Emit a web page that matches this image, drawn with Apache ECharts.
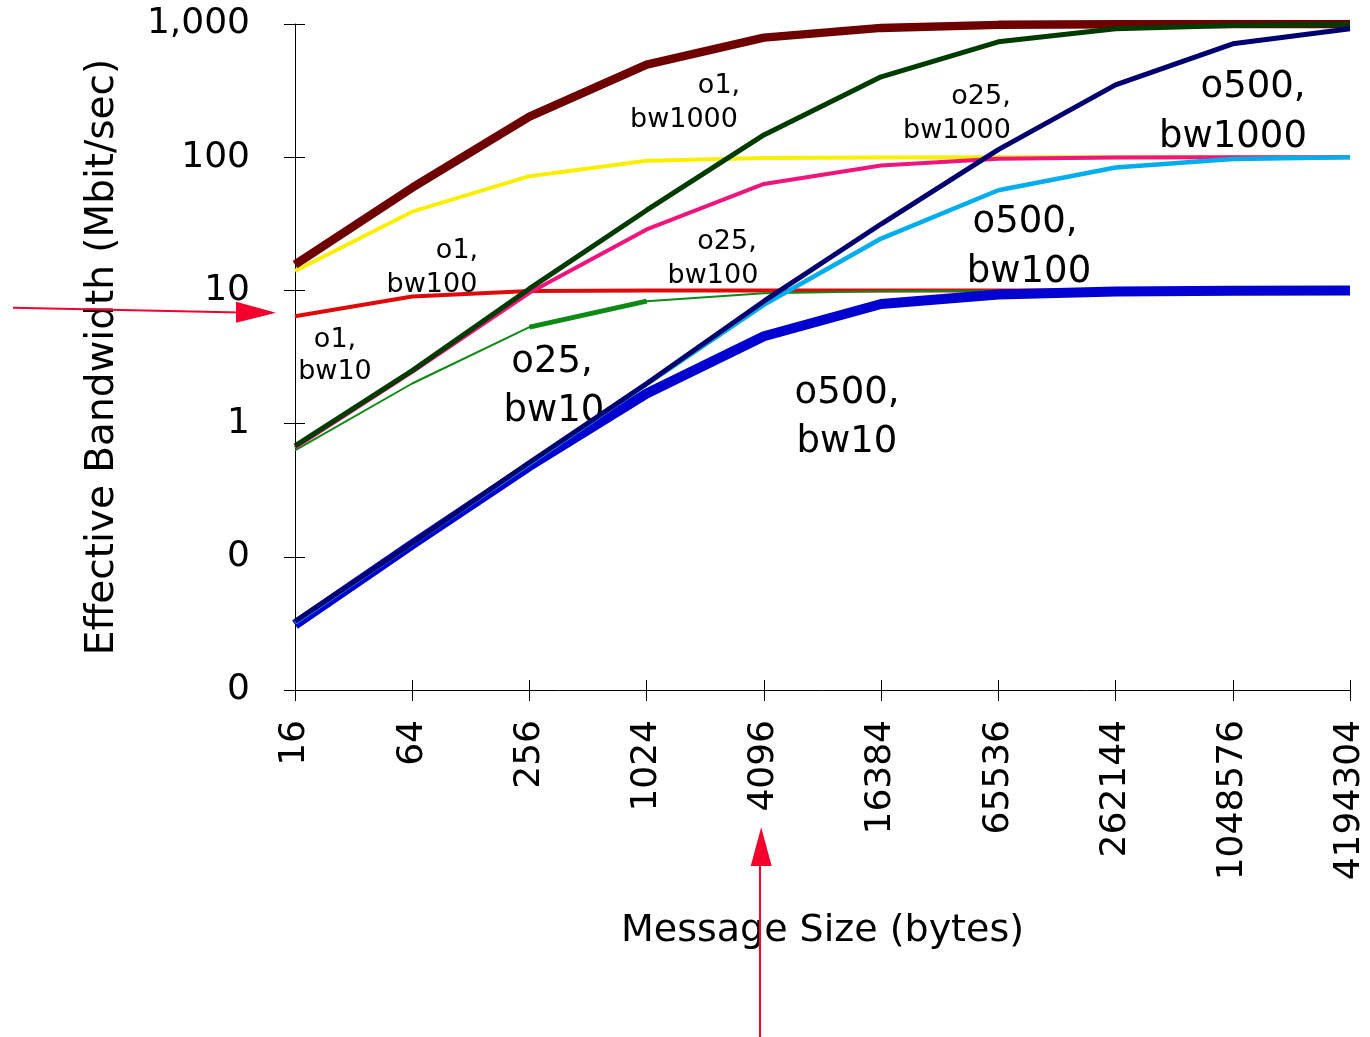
<!DOCTYPE html>
<html><head><meta charset="utf-8">
<script src="https://cdn.jsdelivr.net/npm/echarts/dist/echarts.min.js"></script>
<style>html,body{margin:0;padding:0;background:#fff}#c{width:1370px;height:1037px}</style>
</head><body><div id="c"></div>
<script>
// ---- data ----
const sizes = ['16','64','256','1024','4096','16384','65536','262144','1048576','4194304'];
const yTickLabels = ['0','0','1','10','100','1,000']; // for 0.01, 0.1, 1, 10, 100, 1000
const o1_bw10     = [6.4, 9.0, 9.9, 10, 10, 10, 10, 10, 10, 10];
const o1_bw100    = [14, 39, 72, 94, 98.5, 99.5, 99.9, 100, 100, 100];
const o1_bw1000   = [15.6, 59, 202, 495, 790, 935, 985, 996, 999, 1000];
const o25_bw10    = [0.63, 2.0, 5.3, 8.3, 9.5, 9.85, 9.96, 9.99, 10, 10];
const o25_bw100   = [0.66, 2.45, 9.6, 28.7, 63, 86.5, 97.5, 99.5, 100, 100];
const o25_bw1000  = [0.68, 2.5, 10.3, 40, 147, 401, 735, 920, 975, 995];
const o500_bw10   = [0.031, 0.124, 0.48, 1.68, 4.53, 7.9, 9.3, 9.8, 9.95, 9.99];
const o500_bw100  = [0.032, 0.126, 0.50, 1.98, 7.8, 24.5, 56.5, 83.7, 96.9, 100];
const o500_bw1000 = [0.0327, 0.127, 0.51, 2.0, 8.3, 31.5, 114, 349, 710, 920];
const boldIdx = [2, 3]; // o25,bw10 drawn bold between 256 and 1024
const o25_bw10_bold = o25_bw10.map((v, i) => boldIdx.includes(i) ? v : null);

// ---- styling ----
const FONT = '"DejaVu Sans", Verdana, sans-serif';
const seriesDefs = [
  ['o1, bw10', o1_bw10, '#e00808', 4],
  ['o1, bw100', o1_bw100, '#f8f000', 4],
  ['o1, bw1000', o1_bw1000, '#6e0000', 8.5],
  ['o25, bw10', o25_bw10, '#0c8a14', 2],
  ['o25, bw10 (bold)', o25_bw10_bold, '#0c8a14', 5],
  ['o25, bw100', o25_bw100, '#f0147c', 4],
  ['o25, bw1000', o25_bw1000, '#003c00', 5],
  ['o500, bw10', o500_bw10, '#0000d0', 10],
  ['o500, bw100', o500_bw100, '#00aeef', 4.5],
  ['o500, bw1000', o500_bw1000, '#000070', 5]
];

const annots = [
  {t:['o1,','bw1000'], cx:[719,684], b:[93,127], s:27},
  {t:['o25,','bw1000'], cx:[981,957], b:[104,138], s:27},
  {t:['o500,','bw1000'], cx:[1253,1233], b:[97,147], s:37},
  {t:['o1,','bw100'], cx:[457,432], b:[258,292], s:27},
  {t:['o25,','bw100'], cx:[727,713], b:[249,283], s:27},
  {t:['o500,','bw100'], cx:[1025,1029], b:[232,282], s:37},
  {t:['o1,','bw10'], cx:[335,335], b:[347,379], s:27},
  {t:['o25,','bw10'], cx:[552,554], b:[372,421], s:37},
  {t:['o500,','bw10'], cx:[847,847], b:[403,452], s:37}
];

const graphics = [];
annots.forEach(a => {
  a.t.forEach((txt, i) => {
    graphics.push({
      type: 'text', z: 0,
      style: {
        text: txt, x: a.cx[i], y: a.b[i] - a.s * 0.26,
        font: a.s + 'px ' + FONT, fill: '#000',
        textAlign: 'center', textVerticalAlign: 'middle',
        align: 'center', verticalAlign: 'middle'
      }
    });
  });
});
const arrowColor = '#f5002d';
graphics.push(
  {type:'line', z:100, shape:{x1:13, y1:307.7, x2:240, y2:312.5}, style:{stroke:arrowColor, lineWidth:2}},
  {type:'polygon', z:100, shape:{points:[[236,301.7],[276,312.7],[236,322.7]]}, style:{fill:arrowColor}},
  {type:'line', z:100, shape:{x1:760, y1:1037, x2:760, y2:862}, style:{stroke:arrowColor, lineWidth:2}},
  {type:'polygon', z:100, shape:{points:[[750.7,866],[761.2,827.3],[771.7,866]]}, style:{fill:arrowColor}}
);

const chart = echarts.init(document.getElementById('c'), null, {renderer: 'canvas'});
const axisLineStyle = {color: '#000', width: 1};
chart.setOption({
  animation: false,
  backgroundColor: '#fff',
  grid: {left: 295, right: 20, top: 24, bottom: 347, containLabel: false},
  xAxis: [{
    type: 'category', data: sizes, boundaryGap: false, position: 'bottom',
    axisLine: {show: true, lineStyle: axisLineStyle},
    axisTick: {show: true, interval: 0, length: 11, lineStyle: axisLineStyle},
    axisLabel: {interval: 0, rotate: 90, margin: 30, fontSize: 36, fontFamily: FONT, color: '#000'},
    splitLine: {show: false},
    name: 'Message Size (bytes)', nameLocation: 'middle', nameGap: 222,
    nameTextStyle: {fontSize: 38, fontFamily: FONT, color: '#000'}
  }, {
    type: 'category', data: sizes, boundaryGap: false, position: 'bottom', offset: 0,
    axisLine: {show: false},
    axisTick: {show: true, inside: true, interval: 0, length: 10, lineStyle: axisLineStyle},
    axisLabel: {show: false}, splitLine: {show: false}
  }],
  yAxis: [{
    type: 'log', logBase: 10, min: 0.01, max: 1000, position: 'left',
    axisLine: {show: true, lineStyle: axisLineStyle},
    axisTick: {show: true, length: 11, lineStyle: axisLineStyle},
    axisLabel: {
      margin: 45, fontSize: 36, fontFamily: FONT, color: '#000',
      formatter: v => yTickLabels[Math.round(Math.log10(v)) + 2]
    },
    splitLine: {show: false}, minorTick: {show: false},
    name: 'Effective Bandwidth (Mbit/sec)', nameLocation: 'middle', nameGap: 173, nameRotate: 90,
    nameTextStyle: {fontSize: 39, fontFamily: FONT, color: '#000'}
  }, {
    type: 'log', logBase: 10, min: 0.01, max: 1000, position: 'left', offset: 0,
    axisLine: {show: false},
    axisTick: {show: true, inside: true, length: 10, lineStyle: axisLineStyle},
    axisLabel: {show: false}, splitLine: {show: false}
  }],
  series: seriesDefs.map(([name, data, color, w]) => ({
    name, type: 'line', data, xAxisIndex: 0, yAxisIndex: 0,
    symbol: 'none', smooth: false, connectNulls: false, z: 2,
    lineStyle: {color, width: w}, itemStyle: {color},
    emphasis: {disabled: true}
  })),
  graphic: graphics
});
</script>
</body></html>
